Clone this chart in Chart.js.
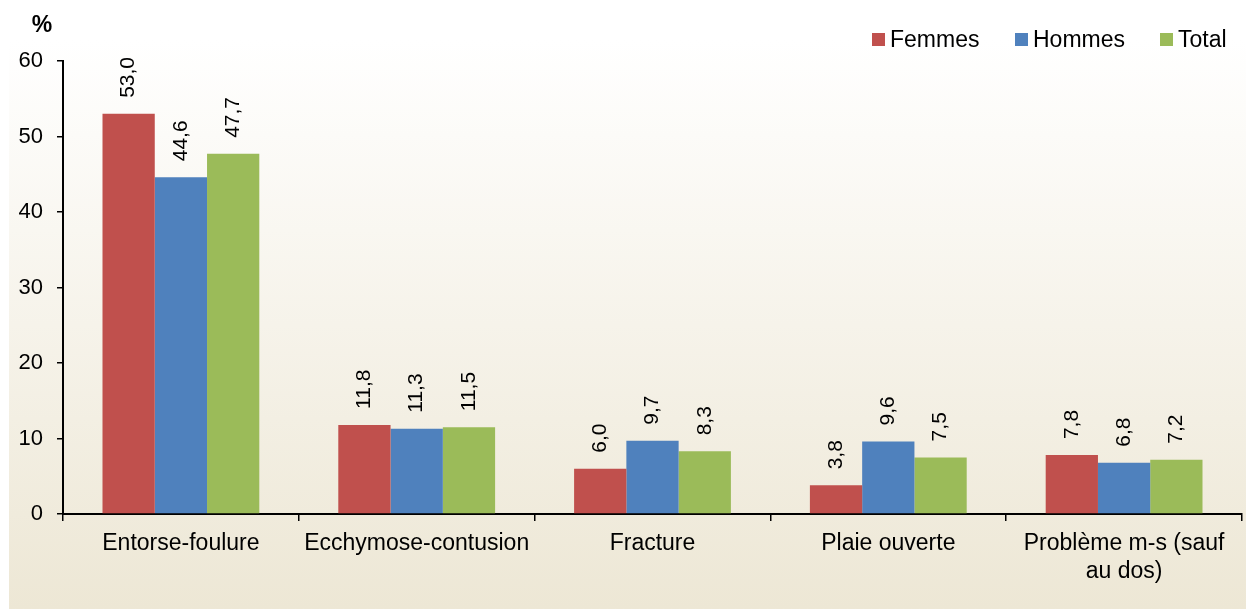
<!DOCTYPE html>
<html>
<head>
<meta charset="utf-8">
<script src="https://cdn.jsdelivr.net/npm/chart.js@4.4.0/dist/chart.umd.min.js"></script>
<style>
  html, body { margin: 0; padding: 0; background: #ffffff; }
  #wrap { width: 1246px; height: 609px; position: relative; }
</style>
</head>
<body>
<div id="wrap"><canvas id="barChart" width="1246" height="609"></canvas></div>
<script>
// Chart data
const categories = ['Entorse-foulure', 'Ecchymose-contusion', 'Fracture', 'Plaie ouverte', ['Problème m-s (sauf', 'au dos)']];
const femmes = [53.0, 11.8, 6.0, 3.8, 7.8];
const hommes = [44.6, 11.3, 9.7, 9.6, 6.8];
const total = [47.7, 11.5, 8.3, 7.5, 7.2];
const yTicks = [0, 10, 20, 30, 40, 50, 60];

const seriesNames = ['Femmes', 'Hommes', 'Total'];
const seriesColors = ['#C0504D', '#4F81BD', '#9BBB59'];
const fontFamily = 'Arial, "Liberation Sans", sans-serif';

// Background panel with soft gradient
const backgroundPanel = {
    id: 'backgroundPanel',
    beforeDraw(chart) {
        const c = chart.ctx;
        c.save();
        c.fillStyle = '#ffffff';
        c.fillRect(0, 0, chart.width, chart.height);
        const g = c.createLinearGradient(0, 40, 0, 609);
        g.addColorStop(0, '#ffffff');
        g.addColorStop(1, '#EDE7D5');
        c.fillStyle = g;
        c.fillRect(9, 40, chart.width - 9, chart.height - 40);
        c.restore();
    }
};

// Rotated value labels above each bar, plus the unit and legend
const extras = {
    id: 'extras',
    afterDatasetsDraw(chart) {
        const c = chart.ctx;
        c.save();
        c.fillStyle = '#000000';
        c.font = '21px ' + fontFamily;
        c.textAlign = 'left';
        c.textBaseline = 'middle';
        chart.data.datasets.forEach((ds, i) => {
            chart.getDatasetMeta(i).data.forEach((bar, j) => {
                const txt = ds.data[j].toFixed(1).replace('.', ',');
                c.save();
                c.translate(bar.x, bar.y - 16);
                c.rotate(-Math.PI / 2);
                c.fillText(txt, 0, 0);
                c.restore();
            });
        });

        // unit label
        c.font = 'bold 23px ' + fontFamily;
        c.textAlign = 'center';
        c.fillText('%', 42, 26);

        // legend
        const legendX = [872, 1015, 1160];
        c.font = '23px ' + fontFamily;
        c.textAlign = 'left';
        seriesNames.forEach((name, i) => {
            c.fillStyle = seriesColors[i];
            c.fillRect(legendX[i], 33, 13, 13);
            c.fillStyle = '#000000';
            c.fillText(name, legendX[i] + 18, 41);
        });
        c.restore();
    }
};

const ctx = document.getElementById('barChart').getContext('2d');
const barChart = new Chart(ctx, {
    type: 'bar',
    data: {
        labels: categories,
        datasets: [
            { label: seriesNames[0], data: femmes, backgroundColor: seriesColors[0] },
            { label: seriesNames[1], data: hommes, backgroundColor: seriesColors[1] },
            { label: seriesNames[2], data: total, backgroundColor: seriesColors[2] }
        ]
    },
    options: {
        responsive: false,
        animation: false,
        datasets: {
            bar: { categoryPercentage: 0.665, barPercentage: 1.0, borderWidth: 0 }
        },
        layout: { padding: { left: 0, right: 4, top: 61, bottom: 0 } },
        plugins: {
            legend: { display: false },
            tooltip: { enabled: false }
        },
        scales: {
            x: {
                offset: true,
                afterFit(scale) { scale.height = 95; },
                grid: {
                    offset: true,
                    drawOnChartArea: false,
                    drawTicks: true,
                    tickLength: 7,
                    color: '#000000',
                    lineWidth: 1.5
                },
                border: { color: '#000000', width: 2 },
                ticks: {
                    color: '#000000',
                    font: { family: fontFamily, size: 23, lineHeight: 1.22 },
                    padding: 9,
                    maxRotation: 0,
                    autoSkip: false
                }
            },
            y: {
                min: 0,
                max: 60,
                afterFit(scale) { scale.width = 63; },
                afterBuildTicks(scale) { scale.ticks = yTicks.map(v => ({ value: v })); },
                grid: {
                    drawOnChartArea: false,
                    drawTicks: true,
                    tickLength: 6,
                    color: '#000000',
                    lineWidth: 1.5
                },
                border: { color: '#000000', width: 2 },
                ticks: {
                    color: '#000000',
                    font: { family: fontFamily, size: 22 },
                    padding: 14
                }
            }
        }
    },
    plugins: [backgroundPanel, extras]
});
</script>
</body>
</html>
